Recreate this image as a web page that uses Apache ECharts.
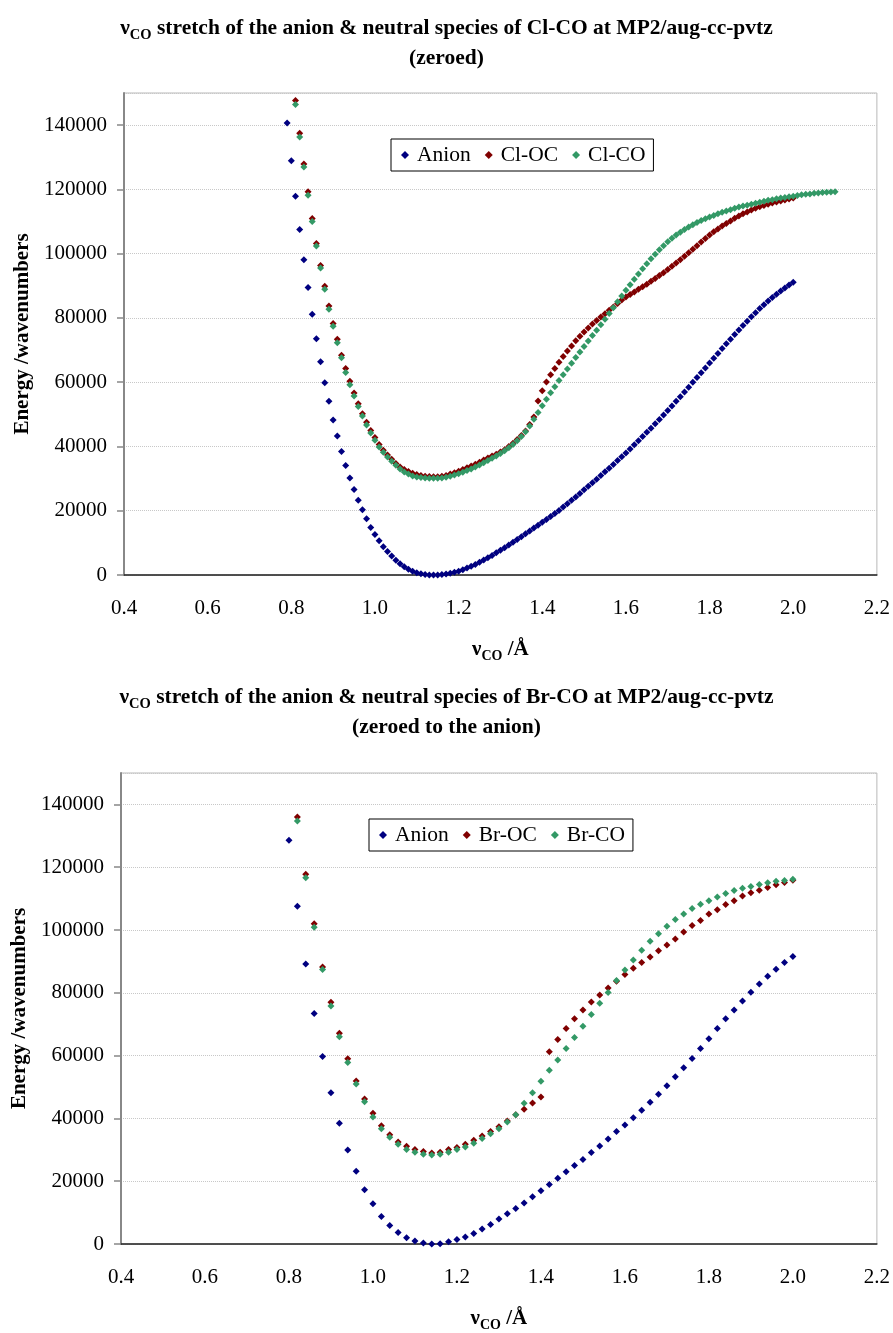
<!DOCTYPE html>
<html>
<head>
<meta charset="utf-8">
<script src="https://cdn.jsdelivr.net/npm/echarts@6/dist/echarts.min.js"></script>
<style>
  html, body { margin: 0; padding: 0; background: #fff; }
  #chart { width: 893px; height: 1333px; }
</style>
</head>
<body>
<div id="chart"></div>
<script>
// top panel: Cl-CO, 0.01 A steps
const xTop = [
  0.79, 0.80, 0.81, 0.82, 0.83, 0.84, 0.85, 0.86, 0.87, 0.88, 0.89, 0.90,
  0.91, 0.92, 0.93, 0.94, 0.95, 0.96, 0.97, 0.98, 0.99, 1.00,
  1.01, 1.02, 1.03, 1.04, 1.05, 1.06, 1.07, 1.08, 1.09, 1.10,
  1.11, 1.12, 1.13, 1.14, 1.15, 1.16, 1.17, 1.18, 1.19, 1.20,
  1.21, 1.22, 1.23, 1.24, 1.25, 1.26, 1.27, 1.28, 1.29, 1.30,
  1.31, 1.32, 1.33, 1.34, 1.35, 1.36, 1.37, 1.38, 1.39, 1.40,
  1.41, 1.42, 1.43, 1.44, 1.45, 1.46, 1.47, 1.48, 1.49, 1.50,
  1.51, 1.52, 1.53, 1.54, 1.55, 1.56, 1.57, 1.58, 1.59, 1.60,
  1.61, 1.62, 1.63, 1.64, 1.65, 1.66, 1.67, 1.68, 1.69, 1.70,
  1.71, 1.72, 1.73, 1.74, 1.75, 1.76, 1.77, 1.78, 1.79, 1.80,
  1.81, 1.82, 1.83, 1.84, 1.85, 1.86, 1.87, 1.88, 1.89, 1.90,
  1.91, 1.92, 1.93, 1.94, 1.95, 1.96, 1.97, 1.98, 1.99, 2.00,
  2.01, 2.02, 2.03, 2.04, 2.05, 2.06, 2.07, 2.08, 2.09, 2.10
];
const anionTop = [
  140700, 128900, 117900, 107550, 98140, 89440, 81150, 73500, 66370, 59840, 54040, 48240,
  43270, 38420, 34070, 30220, 26610, 23290, 20280, 17490, 14810, 12640,
  10650, 8790, 7350, 5900, 4560, 3510, 2580, 1770, 1150, 700,
  400, 150, 30, 0, 20, 120, 300, 550, 850, 1200,
  1650, 2150, 2700, 3300, 3950, 4650, 5350, 6100, 6900, 7700,
  8500, 9350, 10200, 11050, 11900, 12800, 13700, 14600, 15500, 16400,
  17300, 18200, 19150, 20100, 21150, 22200, 23250, 24300, 25400, 26500,
  27600, 28700, 29800, 30950, 32100, 33250, 34400, 35600, 36800, 38000,
  39250, 40500, 41800, 43100, 44400, 45700, 47050, 48400, 49800, 51200,
  52600, 54050, 55500, 56950, 58450, 59950, 61450, 62950, 64450, 65950,
  67450, 68950, 70450, 71950, 73400, 74850, 76250, 77650, 79000, 80350,
  81650, 82900, 84100, 85250, 86350, 87400, 88400, 89350, 90250, 91100,
  null, null, null, null, null, null, null, null, null, null
];
const clOC = [
  null, null, 147700, 137460, 127930, 119230, 110940, 103180, 96350, 89830, 83740, 78250,
  73370, 68400, 64300, 60300, 56610, 53310, 50210, 47510, 44930, 42760,
  40580, 38810, 37350, 36020, 34680, 33630, 32820, 32200, 31670, 31270,
  30960, 30740, 30650, 30550, 30550, 30740, 31000, 31400, 31800, 32300,
  32800, 33400, 33900, 34500, 35100, 35800, 36400, 37000, 37600, 38300,
  39000, 40000, 41000, 42200, 43400, 44800, 46800, 49150, 54130, 57350,
  60100, 62300, 64300, 66200, 68000, 69700, 71300, 72900, 74300, 75600,
  76900, 78100, 79200, 80300, 81300, 82400, 83400, 84500, 85600, 86500,
  87300, 88100, 88900, 89700, 90500, 91400, 92300, 93200, 94100, 95100,
  96100, 97100, 98100, 99200, 100300, 101400, 102500, 103600, 104700, 105800,
  106800, 107700, 108600, 109400, 110200, 111000, 111700, 112400, 113000, 113600,
  114100, 114600, 115000, 115400, 115800, 116100, 116400, 116700, 117000, 117300,
  null, null, null, null, null, null, null, null, null, null
];
const clCO = [
  null, null, 146460, 136310, 126990, 118200, 110010, 102370, 95540, 88900, 82690, 77410,
  72250, 67590, 63030, 59210, 55670, 52470, 49460, 46670, 44180, 41920,
  39840, 38190, 36730, 35400, 34160, 33010, 32080, 31450, 30830, 30520,
  30330, 30210, 30120, 30100, 30120, 30200, 30400, 30700, 31100, 31500,
  32000, 32500, 33000, 33600, 34200, 34900, 35600, 36300, 37000, 37800,
  38700, 39600, 40600, 41800, 43100, 44600, 46400, 48500, 50600, 52700,
  54700, 56700, 58600, 60500, 62300, 64100, 65900, 67700, 69400, 71100,
  72800, 74500, 76200, 77900, 79600, 81400, 83200, 85000, 86800, 88600,
  90300, 92000, 93700, 95300, 96900, 98400, 99800, 101200, 102500, 103700,
  104800, 105800, 106700, 107500, 108300, 109000, 109700, 110300, 110900, 111400,
  111900, 112400, 112900, 113300, 113700, 114100, 114500, 114800, 115100, 115400,
  115700, 116000, 116300, 116600, 116800, 117100, 117300, 117500, 117700, 117900,
  118100, 118300, 118500, 118600, 118800, 118900, 119000, 119100, 119200, 119300
];

// bottom panel: Br-CO, 0.02 A steps
const xBot = [
  0.80, 0.82, 0.84, 0.86, 0.88, 0.90, 0.92, 0.94, 0.96, 0.98, 1.00,
  1.02, 1.04, 1.06, 1.08, 1.10, 1.12, 1.14, 1.16, 1.18, 1.20,
  1.22, 1.24, 1.26, 1.28, 1.30, 1.32, 1.34, 1.36, 1.38, 1.40,
  1.42, 1.44, 1.46, 1.48, 1.50, 1.52, 1.54, 1.56, 1.58, 1.60,
  1.62, 1.64, 1.66, 1.68, 1.70, 1.72, 1.74, 1.76, 1.78, 1.80,
  1.82, 1.84, 1.86, 1.88, 1.90, 1.92, 1.94, 1.96, 1.98, 2.00
];
const anionBot = [
  128580, 107600, 89170, 73410, 59740, 48180, 38450, 29970, 23200, 17260, 12810,
  8780, 5920, 3690, 2000, 950, 300, 0, 100, 730, 1460,
  2220, 3370, 4770, 6230, 7930, 9630, 11310, 13020, 15020, 16940,
  18940, 20970, 22980, 24990, 26900, 29110, 31240, 33460, 35790, 37910,
  40240, 42580, 45130, 47670, 50410, 53270, 56130, 59110, 62290, 65400,
  68640, 71700, 74560, 77420, 80180, 82820, 85260, 87490, 89620, 91530
];
const brOC = [
  null, 136020, 117780, 102010, 88220, 77000, 67150, 58980, 51900, 46180, 41630,
  37690, 34830, 32510, 31140, 30060, 29430, 29010, 29240, 30060, 30700,
  31780, 33050, 34420, 35790, 37380, 39190, 41190, 42900, 44900, 46810,
  61210, 65150, 68640, 71700, 74560, 77100, 79330, 81550, 83680, 85800,
  87800, 89620, 91400, 93430, 95210, 97120, 99350, 101470, 103060, 105070,
  106460, 108150, 109320, 110790, 111860, 112690, 113550, 114400, 115140, 115870
];
const brCO = [
  null, 134750, 116630, 100840, 87400, 75830, 65980, 57840, 50940, 45320, 40460,
  36740, 34000, 31780, 30060, 29240, 28600, 28380, 28600, 29240, 30060,
  30920, 32100, 33560, 35150, 36740, 38870, 41190, 44810, 48180, 51800,
  55300, 58570, 62290, 65780, 69370, 73090, 76680, 80080, 83900, 87270,
  90450, 93530, 96390, 98840, 101160, 103380, 105070, 106880, 108240, 109320,
  110470, 111640, 112600, 113330, 113870, 114500, 115050, 115560, 115780, 116190
];

const FONT = 'Liberation Serif';
const NAVY = '#000080';
const MAROON = '#800000';
const GREEN = '#339966';

function pairs(xs, ys) {
  return xs.map((x, i) => [x, ys[i]]).filter(d => d[1] !== null);
}

const titleRich = {
  b: { fontFamily: FONT, fontWeight: 'bold', fontSize: 21.5, color: '#000', lineHeight: 30 },
  s: { fontFamily: FONT, fontWeight: 'bold', fontSize: 14.5, color: '#000', lineHeight: 14, verticalAlign: 'bottom' }
};
const nameRich = {
  b: { fontFamily: FONT, fontWeight: 'bold', fontSize: 21, color: '#000', lineHeight: 26 },
  s: { fontFamily: FONT, fontWeight: 'bold', fontSize: 14, color: '#000', lineHeight: 12, verticalAlign: 'bottom' }
};

function xAxisFor(gridIndex) {
  return {
    gridIndex,
    type: 'value',
    min: 0.4,
    max: 2.2,
    interval: 0.2,
    name: '{b|ν}{s|CO}{b| /Å}',
    nameLocation: 'middle',
    nameGap: 62,
    nameTextStyle: { rich: nameRich },
    axisLine: { onZero: false, lineStyle: { color: '#222', width: 1.5 } },
    axisTick: { show: false },
    axisLabel: {
      margin: 23,
      fontFamily: FONT,
      fontSize: 21,
      color: '#000',
      formatter: v => v.toFixed(1)
    },
    splitLine: { show: false }
  };
}

function yAxisFor(gridIndex, gap) {
  return {
    gridIndex,
    type: 'value',
    min: 0,
    max: 150000,
    interval: 20000,
    name: 'Energy /wavenumbers',
    nameLocation: 'middle',
    nameGap: gap,
    nameTextStyle: { fontFamily: FONT, fontWeight: 'bold', fontSize: 21, color: '#000' },
    axisLine: { show: true, lineStyle: { color: '#888', width: 2 } },
    axisTick: { show: true, length: 7, lineStyle: { color: '#888', width: 1.5 } },
    axisLabel: {
      margin: 17, fontFamily: FONT, fontSize: 21, color: '#000', showMaxLabel: false,
      formatter: v => String(v)
    },
    splitLine: { show: true, lineStyle: { color: '#c8c8c8', type: 'dotted', width: 1 } }
  };
}

function legendFor(left, top, names) {
  return {
    left, top,
    orient: 'horizontal',
    icon: 'diamond',
    itemWidth: 8,
    itemHeight: 8,
    itemGap: 14,
    padding: [5, 8, 5, 10],
    borderColor: '#000',
    borderWidth: 1,
    backgroundColor: '#fff',
    textStyle: { fontFamily: FONT, fontSize: 21.5, color: '#000', padding: [0, 0, 0, 3] },
    data: names
  };
}

function dots(name, color, xi, data) {
  return {
    name,
    type: 'scatter',
    xAxisIndex: xi,
    yAxisIndex: xi,
    symbol: 'diamond',
    symbolSize: 7,
    itemStyle: { color, opacity: 1 },
    data
  };
}

const chart = echarts.init(document.getElementById('chart'));

const option = {
  backgroundColor: '#fff',
  animation: false,
  title: [{
    left: 'center',
    top: 13,
    padding: 0,
    text: '{b|ν}{s|CO}{b| stretch of the anion & neutral species of Cl-CO at MP2/aug-cc-pvtz}\n{b|(zeroed)}',
    textStyle: { rich: titleRich }
  }, {
    left: 'center',
    top: 682,
    padding: 0,
    text: '{b|ν}{s|CO}{b| stretch of the anion & neutral species of Br-CO at MP2/aug-cc-pvtz}\n{b|(zeroed to the anion)}',
    textStyle: { rich: titleRich }
  }],
  legend: [
    legendFor(391, 139, ['Anion', 'Cl-OC', 'Cl-CO']),
    legendFor(369, 819, ['Anion', 'Br-OC', 'Br-CO'])
  ],
  grid: [
    { left: 124, top: 93, width: 753, height: 482, show: true, borderColor: '#b8b8b8', borderWidth: 1 },
    { left: 121, top: 773, width: 758, height: 471, show: true, borderColor: '#b8b8b8', borderWidth: 1 }
  ],
  xAxis: [xAxisFor(0), xAxisFor(1)],
  yAxis: [yAxisFor(0, 85), yAxisFor(1, 86)],
  series: [
    dots('Anion', NAVY, 0, pairs(xTop, anionTop)),
    dots('Cl-OC', MAROON, 0, pairs(xTop, clOC)),
    dots('Cl-CO', GREEN, 0, pairs(xTop, clCO)),
    dots('Anion', NAVY, 1, pairs(xBot, anionBot)),
    dots('Br-OC', MAROON, 1, pairs(xBot, brOC)),
    dots('Br-CO', GREEN, 1, pairs(xBot, brCO))
  ]
};

chart.setOption(option);
</script>
</body>
</html>
